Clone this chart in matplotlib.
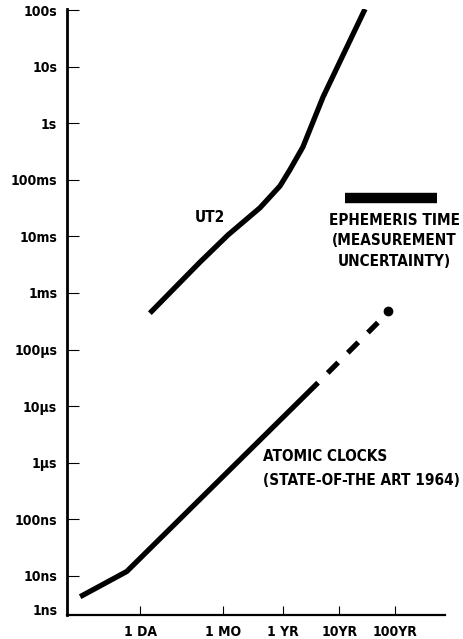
import matplotlib
matplotlib.use("Agg")
import matplotlib.pyplot as plt

plt.rcParams['font.family'] = ['DejaVu Sans']
plt.rcParams['font.stretch'] = 'condensed'

# ---- data (x in days, y in seconds) ----
ut2_days = [1.5, 11.8, 37.5, 140, 320, 480, 820, 1880, 5000, 10600]
ut2_err = [4.4e-4, 3.5e-3, 1.06e-2, 3.2e-2, 7.8e-2, 0.15, 0.38, 2.9, 22, 104]

atomic_days = [0.085, 0.58, 1530]
atomic_err = [4.3e-9, 1.2e-8, 2.6e-5]
atomic_ext_days = [1530, 18000]
atomic_ext_err = [2.6e-5, 3.0e-4]
atomic_dot_days = [27000]
atomic_dot_err = [4.8e-4]

ephem_days = [4650, 205000]
ephem_err = [0.048, 0.048]

xtick_vals = [1, 30.4, 365.25, 3652.5, 36525]
xtick_labels = ["1 DA", "1 MO", "1 YR", "10YR", "100YR"]
ytick_vals = [100, 10, 1, 0.1, 0.01, 1e-3, 1e-4, 1e-5, 1e-6, 1e-7, 1e-8, 2.6e-9]
ytick_labels = ["100s", "10s", "1s", "100ms", "10ms", "1ms",
                "100\u03bcs", "10\u03bcs", "1\u03bcs", "100ns", "10ns", "1ns"]

fig = plt.figure(figsize=(4.63, 6.39), dpi=100)
ax = fig.add_axes([67/463, 24/639, 378/463, 606/639])
ax.set_xscale('log')
ax.set_yscale('log')
ax.set_xlim(10**(-1.306), 10**5.456)
ax.set_ylim(10**(-8.69), 10**2.018)

lw = 3.8
ax.plot(ut2_days, ut2_err, color='black', lw=lw, solid_capstyle='butt', solid_joinstyle='round')
ax.plot(atomic_days, atomic_err, color='black', lw=lw, solid_capstyle='butt', solid_joinstyle='round')
ax.plot(atomic_ext_days, atomic_ext_err, color='black', lw=lw,
        linestyle=(2.8, (2.8, 2.6)), dash_capstyle='butt')
ax.plot(atomic_dot_days, atomic_dot_err, 'o', color='black', ms=6)
ax.plot(ephem_days, ephem_err, color='black', lw=7.5, solid_capstyle='butt')

fs = 11
ax.text(17.9, 0.022, "UT2", ha='center', va='center', fontsize=fs, fontweight='bold')
ax.text(35000, 0.0083, "EPHEMERIS TIME\n(MEASUREMENT\nUNCERTAINTY)", ha='center', va='center',
        fontsize=fs, fontweight='bold', linespacing=1.45, multialignment='center')
ax.text(158, 7.78e-7, "ATOMIC CLOCKS\n(STATE-OF-THE ART 1964)", ha='left', va='center',
        fontsize=fs, fontweight='bold', linespacing=1.75)

for s in ['top', 'right']:
    ax.spines[s].set_visible(False)
ax.spines['left'].set_linewidth(2.0)
ax.spines['bottom'].set_linewidth(1.6)

ax.set_xticks(xtick_vals)
ax.set_xticklabels(xtick_labels)
ax.set_yticks(ytick_vals)
ax.set_yticklabels(ytick_labels)
ax.minorticks_off()
ax.tick_params(axis='y', direction='in', length=8.5, width=0.8, pad=7, labelsize=10)
ax.tick_params(axis='x', direction='in', length=6.5, width=0.8, pad=7, labelsize=10)
for t in ax.get_xticklabels() + ax.get_yticklabels():
    t.set_fontweight('bold')
ax.yaxis.get_major_ticks()[-1].tick1line.set_visible(False)

fig.savefig("out.png", dpi=100)
